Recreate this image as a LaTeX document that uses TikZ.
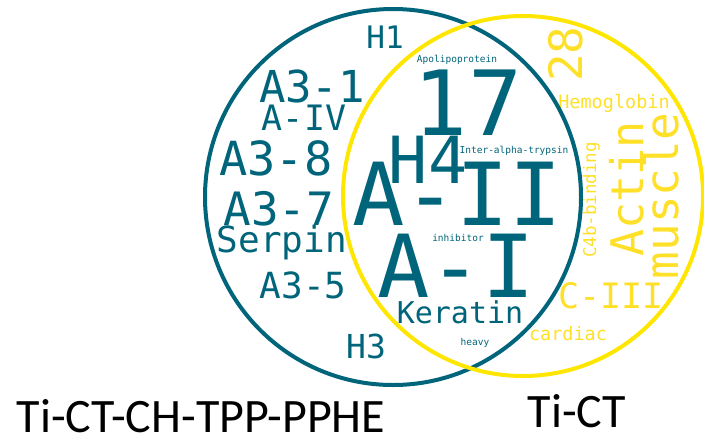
\documentclass[tikz,border=0pt]{standalone}
\usepackage{fontspec}
\setmainfont{Carlito}
\setmonofont{DejaVu Sans Mono}
\definecolor{vteal}{RGB}{0,100,122}
\definecolor{vyellow}{RGB}{255,230,0}
\definecolor{vyelltext}{RGB}{255,224,40}

\begin{document}
\begin{tikzpicture}[
            x = 1pt, y = -1pt,
            every node/.style={inner sep=0pt, anchor=base},
            word/.style={font=\ttfamily\fontsize{#1}{#1}\selectfont},
            tw/.style={word=#1, text=vteal},
            yw/.style={word=#1, text=vyelltext},
            up/.style={rotate=90},
            ring/.style={circle, draw, line width=4pt, minimum size=#1, anchor=center},
            setlabel/.style={font=\fontsize{48}{48}\selectfont},
            ]
        \useasboundingbox (0,0) rectangle (704,440);

        % words of the left set
        \node[tw=31] (h1) at (385,48) {H1};
        \node[tw=44] (a31) at (312,102) {A3-1};
        \node[tw=35] (aiv) at (304,130) {A-IV};
        \node[tw=47] (a38) at (276,175) {A3-8};
        \node[tw=46] (a37) at (279,225) {A3-7};
        \node[tw=36] (serpin) at (282,252) {Serpin};
        \node[tw=36] (a35) at (303,298) {A3-5};
        \node[tw=33] (h3) at (366,358) {H3};

        % words of the shared part
        \node[tw=9.5] (apo) at (457,62) {Apolipoprotein};
        \node[tw=90] (n17) at (468,135) {17};
        \node[tw=65] (h4) at (428,183) {H4};
        \node[tw=9.5] (inter) at (514,153) {Inter-alpha-trypsin};
        \node[tw=87] (aii) at (457,225) {A-II};
        \node[tw=9.5] (inhib) at (458,241) {inhibitor};
        \node[tw=87] (ai) at (456,297) {A-I};
        \node[tw=30] (keratin) at (460,323) {Keratin};
        \node[tw=9.5] (heavy) at (475,345) {heavy};

        % words of the right set
        \node[yw=46, up] (n28) at (582,54) {28};
        \node[yw=18.5] (hemo) at (614,108) {Hemoglobin};
        \node[yw=17.5, up] (c4b) at (596,200) {C4b-binding};
        \node[yw=45, up] (actin) at (643,189) {Actin};
        \node[yw=46, up] (muscle) at (678,196) {muscle};
        \node[yw=35] (ciii) at (611,308) {C-III};
        \node[yw=18.5] (cardiac) at (568,340) {cardiac};

        % the two sets
        \node[ring=376pt, draw=vteal] (left) at (393,197) {};
        \node[ring=360pt, draw=vyellow] (right) at (523,196) {};

        \node[setlabel] (leftname) at (201,432) {Ti-CT-CH-TPP-PPHE};
        \node[setlabel] (rightname) at (577,427) {Ti-CT};
    \end{tikzpicture}
\end{document}
